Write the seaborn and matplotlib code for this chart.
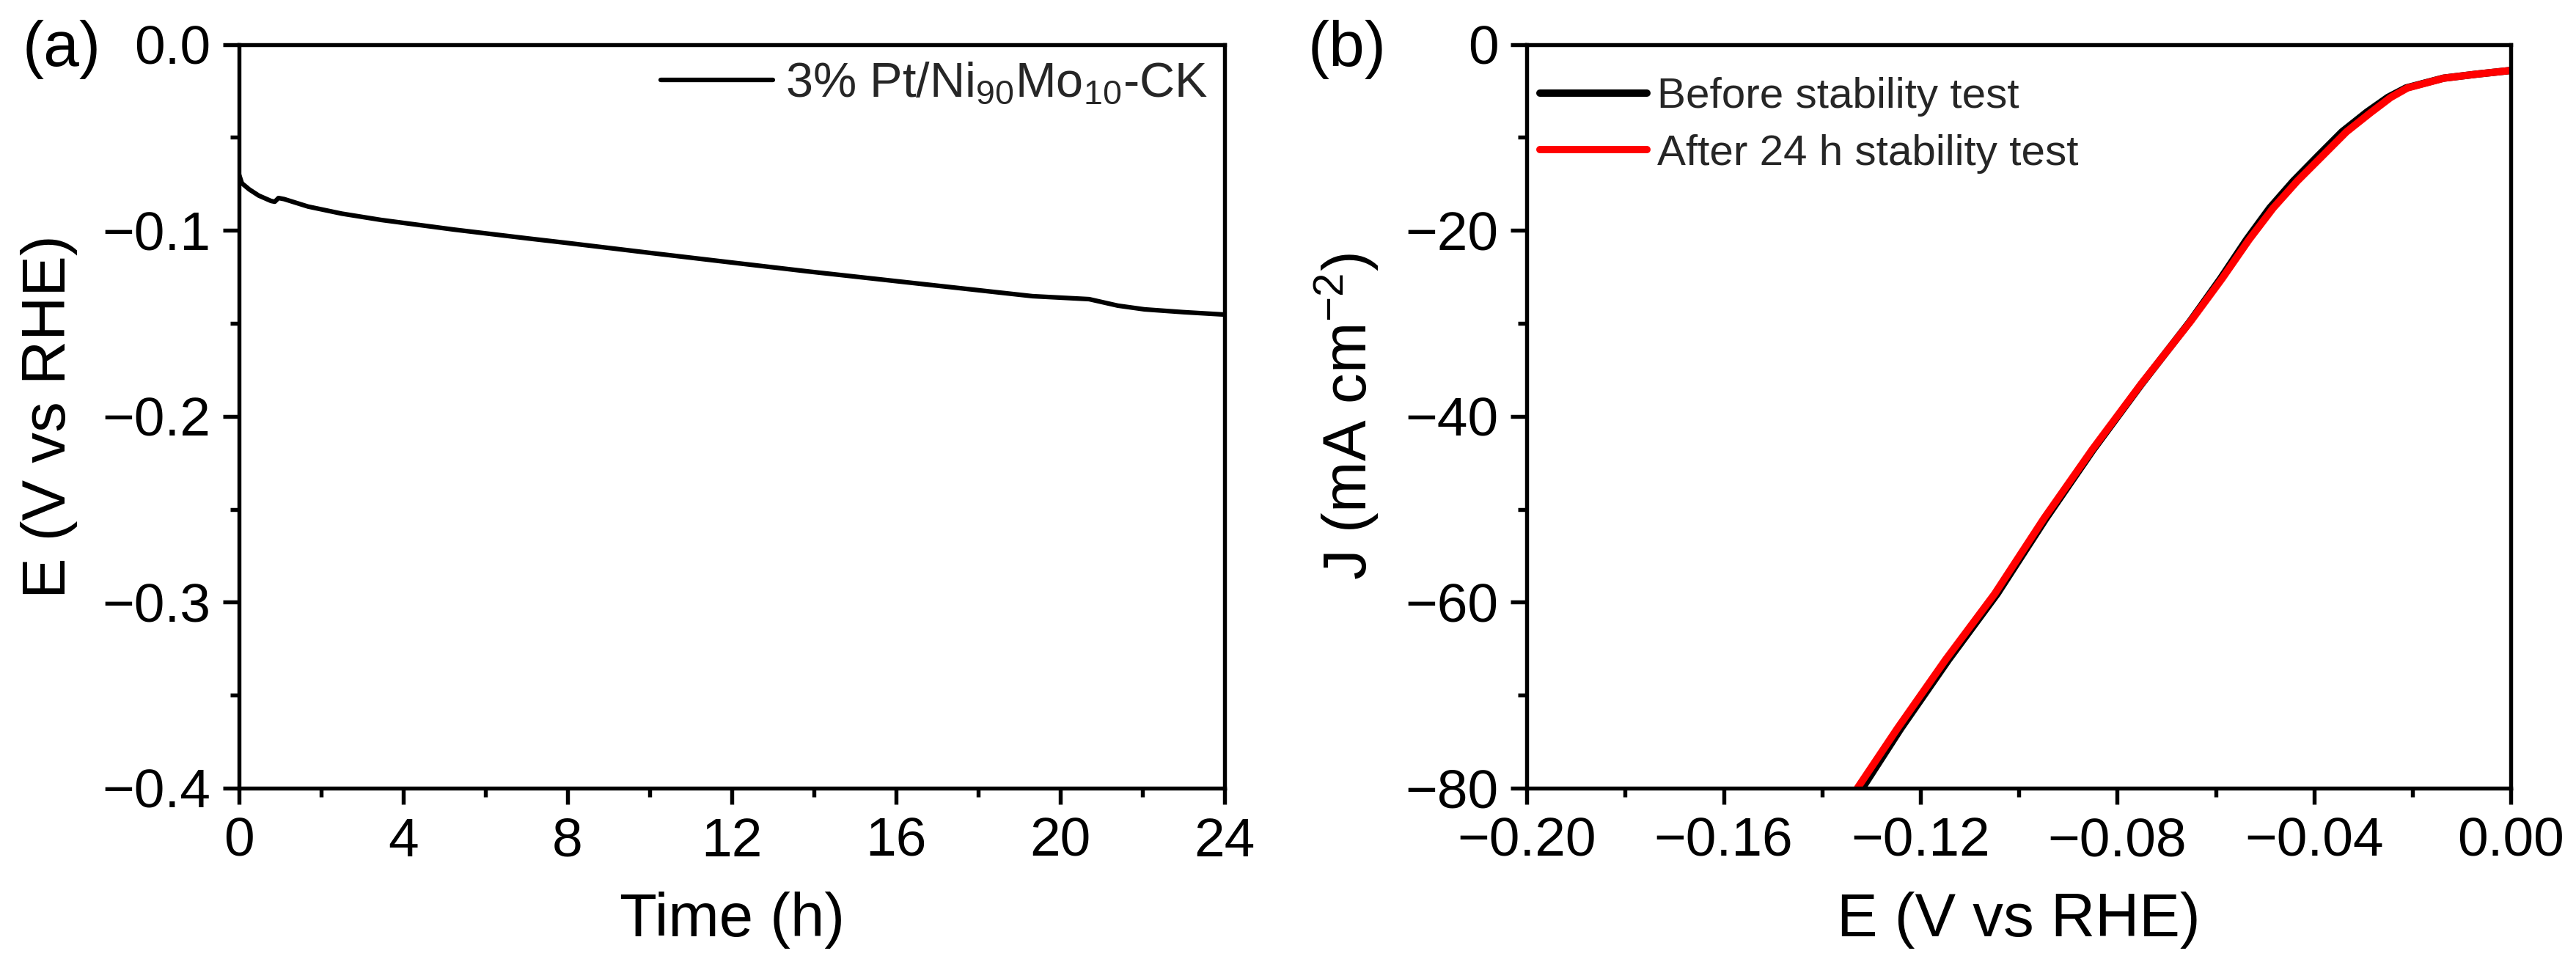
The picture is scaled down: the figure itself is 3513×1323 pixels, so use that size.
import numpy as np
import pandas as pd
import matplotlib
matplotlib.use("Agg")
import matplotlib.pyplot as plt
from matplotlib.ticker import MultipleLocator
import seaborn as sns

# ---------------- data ----------------
# (a) chronopotentiometry
time_h = [0, 0.07, 0.25, 0.48, 0.78, 0.87, 0.96, 1.1, 1.68, 2.5, 3.46, 5.24,
          7.02, 8.0, 10.0, 12.0, 13.82, 16.57, 19.32, 20.7, 21.0, 21.4, 22.05, 23.0, 24.0]
potential = [-0.0700, -0.0747, -0.0780, -0.0813, -0.0842, -0.0846, -0.0826, -0.0832,
             -0.0872, -0.0910, -0.0944, -0.0996, -0.1043, -0.1068, -0.1121, -0.1173,
             -0.1220, -0.1287, -0.1354, -0.1370, -0.1385, -0.1405, -0.1425, -0.1440, -0.1453]
label_a = r"3% Pt/Ni$_{\mathregular{90}}$Mo$_{\mathregular{10}}$-CK"

# (b) polarization curves
e_before = [-0.1318, -0.1240, -0.1143, -0.1044, -0.0945, -0.0849, -0.0750, -0.0652,
            -0.0590, -0.0537, -0.0490, -0.0442, -0.0392, -0.0343, -0.0293, -0.0250,
            -0.0213, -0.0137, -0.0070, 0.0]
j_before = [-80.0, -73.6, -66.2, -59.1, -51.0, -43.6, -36.5, -29.8, -25.2, -21.0,
            -17.6, -14.7, -12.0, -9.4, -7.3, -5.7, -4.68, -3.63, -3.2, -2.8]
e_after = [-0.1328, -0.1247, -0.1149, -0.1049, -0.0949, -0.0851, -0.0751, -0.0651,
           -0.0587, -0.0532, -0.0483, -0.0434, -0.0383, -0.0334, -0.0284, -0.0244,
           -0.0210, -0.0136, -0.0070, 0.0]
j_after = [-80.0, -73.6, -66.2, -59.1, -51.0, -43.6, -36.5, -29.8, -25.2, -21.0,
           -17.6, -14.7, -12.0, -9.4, -7.3, -5.7, -4.68, -3.63, -3.2, -2.8]
series_b = ["Before stability test", "After 24 h stability test"]
colors_b = ["black", "#ff0000"]

# ---------------- style ----------------
sns.set_theme(style="ticks")
plt.rcParams["font.family"] = ["Liberation Sans", "DejaVu Sans"]
plt.rcParams["mathtext.fontset"] = "custom"
plt.rcParams["mathtext.rm"] = "Liberation Sans"
plt.rcParams["mathtext.it"] = "Liberation Sans:italic"
plt.rcParams["mathtext.bf"] = "Liberation Sans:bold"
plt.rcParams["axes.linewidth"] = 1.3
plt.rcParams["axes.edgecolor"] = "black"

fig = plt.figure(figsize=(3513 / 300, 1323 / 300), dpi=300)
fig.patch.set_facecolor("white")
ax_a = fig.add_axes([0.0928, 0.1875, 0.3826, 0.7667])
ax_b = fig.add_axes([0.5927, 0.1875, 0.3820, 0.7667])


def style_axis(ax):
    ax.set_facecolor("white")
    for s in ax.spines.values():
        s.set_visible(True)
        s.set_color("black")
        s.set_linewidth(1.3)
    ax.tick_params(which="major", direction="out", length=5.3, width=1.3,
                   labelsize=18, color="black", labelcolor="black", pad=4,
                   top=False, right=False)
    ax.tick_params(which="minor", direction="out", length=2.9, width=1.3,
                   color="black", top=False, right=False)
    ax.grid(False)


# ---- panel (a)
df_a = pd.DataFrame({"t": time_h, "E": potential})
sns.lineplot(data=df_a, x="t", y="E", ax=ax_a, color="black", lw=1.5,
             label=label_a, estimator=None)
ax_a.set_xlim(0, 24)
ax_a.set_ylim(-0.4, 0.0)
ax_a.xaxis.set_major_locator(MultipleLocator(4))
ax_a.xaxis.set_minor_locator(MultipleLocator(2))
ax_a.yaxis.set_major_locator(MultipleLocator(0.1))
ax_a.yaxis.set_minor_locator(MultipleLocator(0.05))
style_axis(ax_a)
ax_a.set_xlabel("Time (h)", fontsize=20, labelpad=8, color="black")
ax_a.set_ylabel("E (V vs RHE)", fontsize=20, labelpad=8, color="black")
ax_a.legend(loc="upper right", frameon=False, fontsize=16, handlelength=2.3,
            handletextpad=0.25, borderaxespad=0.15, borderpad=0.2)

# ---- panel (b)
df_b = pd.concat([
    pd.DataFrame({"E": e_before, "J": j_before, "series": series_b[0]}),
    pd.DataFrame({"E": e_after, "J": j_after, "series": series_b[1]}),
], ignore_index=True)
sns.lineplot(data=df_b, x="E", y="J", hue="series", hue_order=series_b,
             palette=colors_b, ax=ax_b, lw=2.4, estimator=None, sort=True)
ax_b.set_xlim(-0.20, 0.0)
ax_b.set_ylim(-80, 0)
ax_b.xaxis.set_major_locator(MultipleLocator(0.04))
ax_b.xaxis.set_minor_locator(MultipleLocator(0.02))
ax_b.yaxis.set_major_locator(MultipleLocator(20))
ax_b.yaxis.set_minor_locator(MultipleLocator(10))
style_axis(ax_b)
ax_b.set_xlabel("E (V vs RHE)", fontsize=20, labelpad=8, color="black")
ax_b.set_ylabel(r"J (mA cm$^{\mathregular{-2}}$)", fontsize=20, labelpad=8, color="black")
leg = ax_b.legend(loc="upper left", bbox_to_anchor=(0.0045, 0.9675), frameon=False,
                  fontsize=14, handlelength=2.5, handletextpad=0.25,
                  borderaxespad=0.0, borderpad=0.2, labelspacing=0.4, title=None)

# panel letters
fig.text(0.024, 0.949, "(a)", fontsize=21, ha="center", va="center", color="black")
fig.text(0.523, 0.949, "(b)", fontsize=21, ha="center", va="center", color="black")

fig.savefig("out.png", dpi=300, facecolor="white")
